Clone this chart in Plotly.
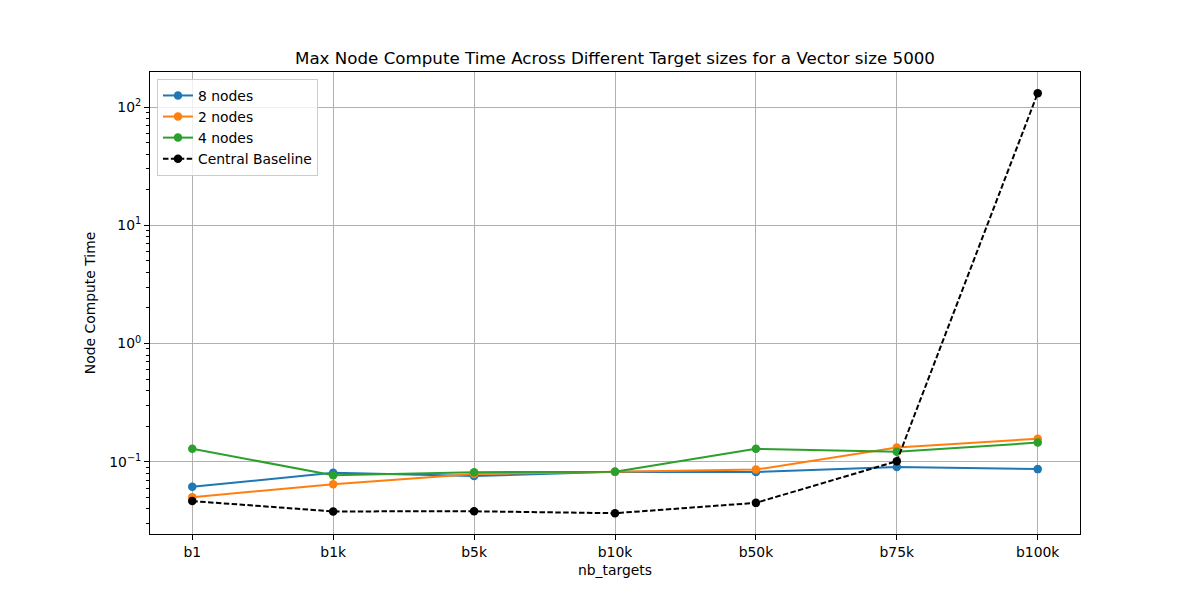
import plotly.graph_objects as go

categories = ["b1", "b1k", "b5k", "b10k", "b50k", "b75k", "b100k"]
nodes8 = [0.0615, 0.0807, 0.0760, 0.0823, 0.0820, 0.0905, 0.0868]
nodes2 = [0.0503, 0.0648, 0.0790, 0.0823, 0.0860, 0.1320, 0.1570]
nodes4 = [0.1290, 0.0770, 0.0818, 0.0823, 0.1290, 0.1216, 0.1455]
baseline = [0.0466, 0.0381, 0.0382, 0.0368, 0.0450, 0.1013, 131.0]

series = [
    ("8 nodes", nodes8, "#1f77b4", "solid"),
    ("2 nodes", nodes2, "#ff7f0e", "solid"),
    ("4 nodes", nodes4, "#2ca02c", "solid"),
    ("Central Baseline", baseline, "#000000", "5.5px,2.4px"),
]

xpos = list(range(len(categories)))

fig = go.Figure()
for name, vals, color, dash in series:
    fig.add_trace(go.Scatter(
        x=xpos, y=vals, name=name, mode="lines+markers",
        line=dict(color=color, width=2, dash=dash),
        marker=dict(color=color, size=8.5),
    ))

font = "DejaVu Sans, sans-serif"
major = [0.1, 1, 10, 100]
major_text = ["10<sup>−1</sup>", "10<sup>0</sup>", "10<sup>1</sup>", "10<sup>2</sup>"]
minor_vals = []
for d in [0.01, 0.1, 1, 10]:
    for k in range(2, 10):
        v = k * d
        if 0.0245 < v < 198:
            minor_vals.append(v)

fig.update_layout(
    width=1200, height=600,
    margin=dict(l=142, r=128, t=64, b=74),
    paper_bgcolor="white", plot_bgcolor="white",
    font=dict(family=font, color="black", size=13.9),
    title=dict(text="Max Node Compute Time Across Different Target sizes for a Vector size 5000",
               x=0.5, xanchor="center", xref="paper", y=1 - 50 / 600, yref="container",
               yanchor="middle", font=dict(size=16.7, family=font)),
    showlegend=True,
    legend=dict(x=0.0075, y=0.985, xanchor="left", yanchor="top",
                bgcolor="rgba(255,255,255,0.8)", bordercolor="#cccccc", borderwidth=1,
                font=dict(size=13.9, family=font), tracegroupgap=0, itemwidth=30),
    xaxis=dict(
        range=[-0.3, 6.3], tickmode="array", tickvals=xpos, ticktext=categories,
        showgrid=True, gridcolor="#b0b0b0", gridwidth=1,
        showline=True, linecolor="black", linewidth=1, mirror=True,
        ticks="outside", ticklen=5, tickcolor="black", zeroline=False,
        title=dict(text="nb_targets", standoff=6, font=dict(size=13.9)),
    ),
    yaxis=dict(
        type="log", range=[-1.61, 2.296],
        tickmode="array", tickvals=major, ticktext=major_text,
        showgrid=True, gridcolor="#b0b0b0", gridwidth=1,
        showline=True, linecolor="black", linewidth=1, mirror=True,
        ticks="outside", ticklen=5, tickcolor="black", zeroline=False,
        minor=dict(tickmode="array", tickvals=minor_vals, ticks="outside", ticklen=3,
                   tickcolor="black", showgrid=False),
        title=dict(text="Node Compute Time", standoff=10, font=dict(size=13.9)),
    ),
)

fig.write_html("out.html")
